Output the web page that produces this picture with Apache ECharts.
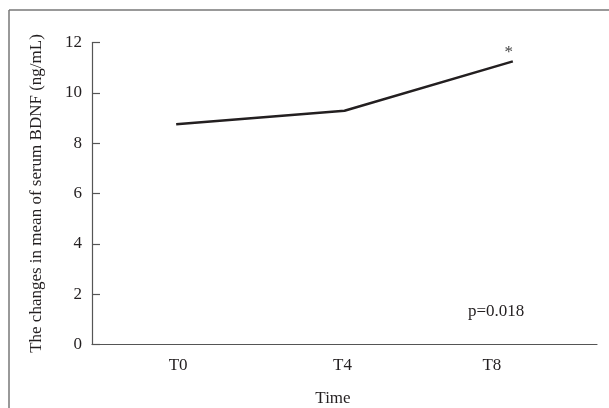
<!DOCTYPE html>
<html>
<head>
<meta charset="utf-8">
<script src="https://cdn.jsdelivr.net/npm/echarts@6/dist/echarts.min.js"></script>
<style>html,body{margin:0;padding:0;background:#fff}#c{width:609px;height:408px}</style>
</head>
<body>
<div id="c"></div>
<script>
const categories = ['T0', 'T4', 'T8'];
const bdnfMeans = [8.75, 9.29, 11.25];
const significance = ['', '', '*'];
const yTicks = { min: 0, max: 12, interval: 2 };
const pValueText = 'p=0.018';

const FONT = '"Liberation Serif", "DejaVu Serif", serif';
const FS = 17;
const TXT = '#231f20';
const chart = echarts.init(document.getElementById('c'));
chart.setOption({
  animation: false,
  backgroundColor: '#fff',
  grid: { left: 92, right: 12, top: 42.5, bottom: 63.5, containLabel: false, outerBoundsMode: 'none' },
  xAxis: {
    type: 'category',
    data: categories,
    boundaryGap: true,
    name: 'Time',
    nameLocation: 'middle',
    nameGap: 46,
    nameTextStyle: { fontFamily: FONT, fontSize: FS, color: TXT, padding: [0, 23, 0, 0] },
    axisLine: { lineStyle: { color: '#555', width: 1.2 } },
    axisTick: { show: false },
    axisLabel: {
      margin: 13,
      fontFamily: FONT, fontSize: FS, color: TXT,
      formatter: function (v) { return '{' + v + '|' + v + '}'; },
      rich: {
        T0: { fontFamily: FONT, fontSize: FS, color: TXT, padding: [0, 0, 0, 4] },
        T4: { fontFamily: FONT, fontSize: FS, color: TXT, padding: [0, 4, 0, 0] },
        T8: { fontFamily: FONT, fontSize: FS, color: TXT, padding: [0, 42, 0, 0] }
      }
    },
    splitLine: { show: false }
  },
  yAxis: {
    type: 'value',
    min: yTicks.min, max: yTicks.max, interval: yTicks.interval,
    name: 'The changes in mean of serum BDNF (ng/mL)',
    nameLocation: 'middle',
    nameGap: 47,
    nameTextStyle: { fontFamily: FONT, fontSize: FS, color: TXT },
    axisLine: { show: true, lineStyle: { color: '#555', width: 1.2 } },
    axisTick: { show: true, inside: true, length: 8, lineStyle: { color: '#555', width: 1.2 } },
    axisLabel: { margin: 10, fontFamily: FONT, fontSize: FS, color: TXT },
    splitLine: { show: false }
  },
  series: [{
    type: 'line',
    data: bdnfMeans,
    symbol: 'circle',
    symbolSize: 0,
    showSymbol: true,
    lineStyle: { color: TXT, width: 2.5 },
    itemStyle: { color: TXT },
    label: {
      show: true,
      position: 'top',
      distance: 2,
      offset: [-4, 2],
      fontFamily: FONT, fontSize: 17, color: '#444',
      formatter: function (p) { return significance[p.dataIndex]; }
    }
  }],
  graphic: [
    { type: 'line', shape: { x1: 9, y1: 10, x2: 609, y2: 10 }, style: { stroke: '#777', lineWidth: 1.5 } },
    { type: 'line', shape: { x1: 9, y1: 10, x2: 9, y2: 408 }, style: { stroke: '#777', lineWidth: 1.5 } },
    { type: 'text', left: 468, top: 303, style: { text: pValueText, font: FS + 'px ' + FONT, fill: TXT } }
  ]
});
</script>
</body>
</html>
